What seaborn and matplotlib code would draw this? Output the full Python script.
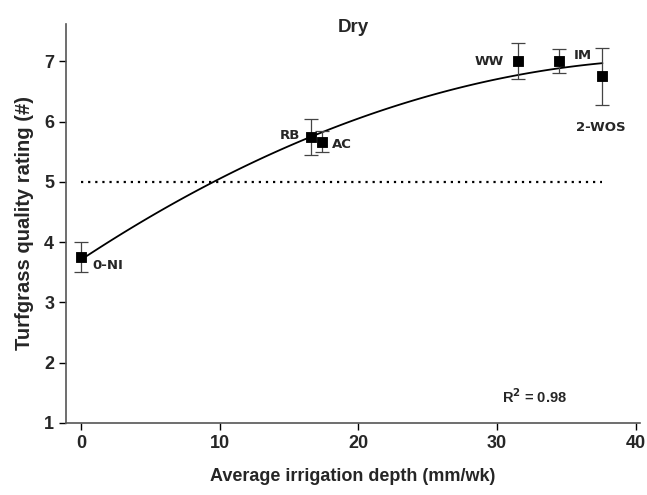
import matplotlib
matplotlib.use("Agg")
import matplotlib.pyplot as plt
import seaborn as sns
import pandas as pd

treatments = ["0-NI", "RB", "AC", "WW", "IM", "2-WOS"]
irrigation = [0.0, 16.6, 17.4, 31.5, 34.5, 37.6]
rating = [3.75, 5.75, 5.67, 7.0, 7.0, 6.75]
rating_err = [0.25, 0.30, 0.18, 0.30, 0.20, 0.47]
threshold = 5.0
r2_text = "R$^\\mathbf{2}$ = 0.98"

df = pd.DataFrame({"trt": treatments, "x": irrigation, "y": rating, "err": rating_err})

sns.set_theme(style="ticks")
plt.rcParams["font.family"] = ["Liberation Sans", "DejaVu Sans"]
plt.rcParams["mathtext.default"] = "bf"

fig = plt.figure(figsize=(6.47, 4.95), dpi=100)
ax = fig.add_axes([0.102, 0.1455, 0.887, 0.806])

# threshold dotted line
ax.plot([min(irrigation), max(irrigation)], [threshold, threshold],
        color="black", linestyle=(0, (1, 2.2)), linewidth=1.6, zorder=1)

# quadratic trend
sns.regplot(data=df, x="x", y="y", order=2, ci=None, scatter=False, ax=ax,
            line_kws=dict(color="black", linewidth=1.3), truncate=True)

ax.errorbar(df["x"], df["y"], yerr=df["err"], fmt="none", ecolor="#444444",
            elinewidth=0.9, capsize=5, capthick=0.9, zorder=2)
sns.scatterplot(data=df, x="x", y="y", marker="s", s=60, color="black",
                edgecolor="black", ax=ax, zorder=3)

# point labels
offsets = {"0-NI": (8, -6, "left"), "RB": (-8, 1, "right"), "AC": (7, -2, "left"),
           "WW": (-10, 0, "right"), "IM": (10, 4, "left"), "2-WOS": (-1, -37, "center")}
for t, x, y in zip(treatments, irrigation, rating):
    dx, dy, ha = offsets[t]
    ax.annotate(t, (x, y), xytext=(dx, dy), textcoords="offset points",
                ha=ha, va="center", fontsize=9.5, fontweight="bold",
                family=["DejaVu Sans"])

ax.text(0.817, 0.065, r2_text, transform=ax.transAxes, fontsize=10.5,
        fontweight="bold", ha="center", va="center")

ax.set_xlim(-1.1, 40.3)
ax.set_ylim(1, 7.62)
ax.set_xticks([0, 10, 20, 30, 40])
ax.set_yticks([1, 2, 3, 4, 5, 6, 7])
ax.tick_params(axis="both", labelsize=13, length=5, width=1, color="black")
for lab in ax.get_xticklabels() + ax.get_yticklabels():
    lab.set_fontweight("bold")
ax.set_xlabel("Average irrigation depth (mm/wk)", fontsize=13, fontweight="bold", labelpad=12)
ax.set_ylabel("Turfgrass quality rating (#)", fontsize=14.5, fontweight="bold", labelpad=7)
ax.set_title("Dry", fontsize=13.5, fontweight="bold", y=0.98, pad=0)
sns.despine(ax=ax)
for s in ["left", "bottom"]:
    ax.spines[s].set_color("#555555")
    ax.spines[s].set_linewidth(1.2)

fig.savefig("out.png", dpi=100)
